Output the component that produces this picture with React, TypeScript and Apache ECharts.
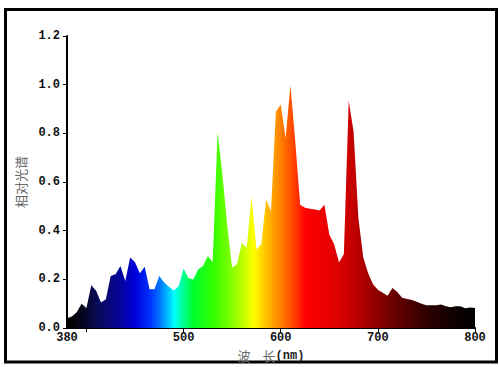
import React, { useEffect, useRef } from "react";
import * as echarts from "echarts";

const wavelengths: number[] = [
  380, 385, 390, 395, 400, 405, 410, 415, 420, 425, 430, 435, 440, 445, 450, 455, 460, 465, 470, 475,
  480, 485, 490, 495, 500, 505, 510, 515, 520, 525, 530, 535, 540, 545, 550, 555, 560, 565, 570, 575,
  580, 585, 590, 595, 600, 605, 610, 615, 620, 625, 630, 635, 640, 645, 650, 655, 660, 665, 670, 675,
  680, 685, 690, 695, 700, 705, 710, 715, 720, 725, 730, 735, 740, 745, 750, 755, 760, 765, 770, 775,
  780, 785, 790, 795, 800,
];

const intensity: number[] = [
  0.04, 0.048, 0.065, 0.1, 0.083, 0.176, 0.153, 0.105, 0.119, 0.214, 0.221, 0.255, 0.194, 0.29, 0.271, 0.225, 0.252, 0.16, 0.16, 0.214,
  0.187, 0.17, 0.154, 0.173, 0.244, 0.206, 0.2, 0.241, 0.255, 0.296, 0.272, 0.805, 0.63, 0.42, 0.248, 0.262, 0.35, 0.33, 0.541, 0.323,
  0.344, 0.528, 0.48, 0.889, 0.919, 0.78, 0.998, 0.766, 0.507, 0.494, 0.49, 0.487, 0.483, 0.507, 0.385, 0.344, 0.269, 0.303, 0.934, 0.807,
  0.45, 0.29, 0.225, 0.18, 0.158, 0.145, 0.133, 0.165, 0.148, 0.125, 0.12, 0.115, 0.108, 0.1, 0.094, 0.094, 0.094, 0.097, 0.09, 0.086,
  0.09, 0.09, 0.082, 0.085, 0.083,
];

const xLabelValues: number[] = [380, 500, 600, 700, 800];
const xTickValues: number[] = [400, 500, 600, 700, 800];

// spectrum colour stops (wavelength, colour)
const stopNm: number[] = [380, 395, 410, 430, 450, 465, 475, 485, 490, 500, 510, 530, 545, 560, 572, 585, 600, 615, 625, 650, 670, 690, 710, 730, 750, 770, 790, 800];
const stopColors: string[] = [
  "#000000", "#05051a", "#0a0a55", "#05058c", "#0000d8", "#0030ff", "#0070ff", "#00c8ff", "#00ffff", "#00ff90",
  "#00ff30", "#30ff00", "#70ff00", "#b8ff00", "#ffff00", "#ffc000", "#ff8000", "#ff3c00", "#ff0000", "#e80000",
  "#cc0000", "#a40000", "#760000", "#520000", "#300000", "#180000", "#050000", "#000000",
];

export default function App() {
  const ref = useRef<HTMLDivElement>(null);
  useEffect(() => {
    if (!ref.current) return;
    const chart = echarts.init(ref.current, undefined, { renderer: "svg" });
    const data = wavelengths.map((w, i) => [w, intensity[i]]);
    const min = wavelengths[0];
    const span = wavelengths[wavelengths.length - 1] - min;
    const colorStops = stopNm.map((nm, i) => ({ offset: (nm - min) / span, color: stopColors[i] }));
    const labelStyle = {
      fontFamily: "Liberation Mono",
      fontWeight: "bold" as const,
      fontSize: 12,
      color: "#111",
    };
    chart.setOption({
      animation: false,
      backgroundColor: "#fff",
      grid: { left: 67, top: 36, right: 24, bottom: 38 },
      graphic: [
        {
          type: "rect",
          shape: { x: 5.5, y: 9.5, width: 491, height: 352.5 },
          style: { fill: "none", stroke: "#000", lineWidth: 3 },
          silent: true,
        },
      ],
      xAxis: {
        type: "value",
        min: 380,
        max: 800,
        name: "{a|波}{s|}{a|长}{b|(nm)}",
        nameLocation: "middle",
        nameGap: 15,
        nameTextStyle: {
          rich: {
            a: { fontFamily: "Noto Sans CJK SC", fontSize: 13, color: "#666" },
            s: { width: 12 },
            b: { fontFamily: "Liberation Mono", fontWeight: "bold", fontSize: 12, color: "#222" },
          },
        },
        axisLine: { show: true, lineStyle: { color: "#000", width: 2 } },
        axisTick: { show: true, length: 4, lineStyle: { color: "#000" }, customValues: xTickValues },
        axisLabel: { ...labelStyle, margin: 4, customValues: xLabelValues },
        splitLine: { show: false },
      },
      yAxis: {
        type: "value",
        min: 0,
        max: 1.2,
        interval: 0.2,
        name: "相对光谱",
        nameLocation: "middle",
        nameGap: 34,
        nameTextStyle: { fontFamily: "Noto Sans CJK SC", fontSize: 13, color: "#666" },
        axisLine: { show: true, lineStyle: { color: "#000", width: 2 } },
        axisTick: { show: true, length: 4, lineStyle: { color: "#000" } },
        axisLabel: { ...labelStyle, margin: 7, formatter: (v: number) => v.toFixed(1) },
        splitLine: { show: false },
      },
      series: [
        {
          type: "line",
          data,
          showSymbol: false,
          smooth: false,
          lineStyle: { width: 0 },
          areaStyle: {
            opacity: 1,
            color: new echarts.graphic.LinearGradient(0, 0, 1, 0, colorStops),
          },
        },
      ],
    });
    return () => chart.dispose();
  }, []);
  return (
    <div
      ref={ref}
      style={{ position: "absolute", left: 0, top: 0, width: 499, height: 367 }}
    />
  );
}
